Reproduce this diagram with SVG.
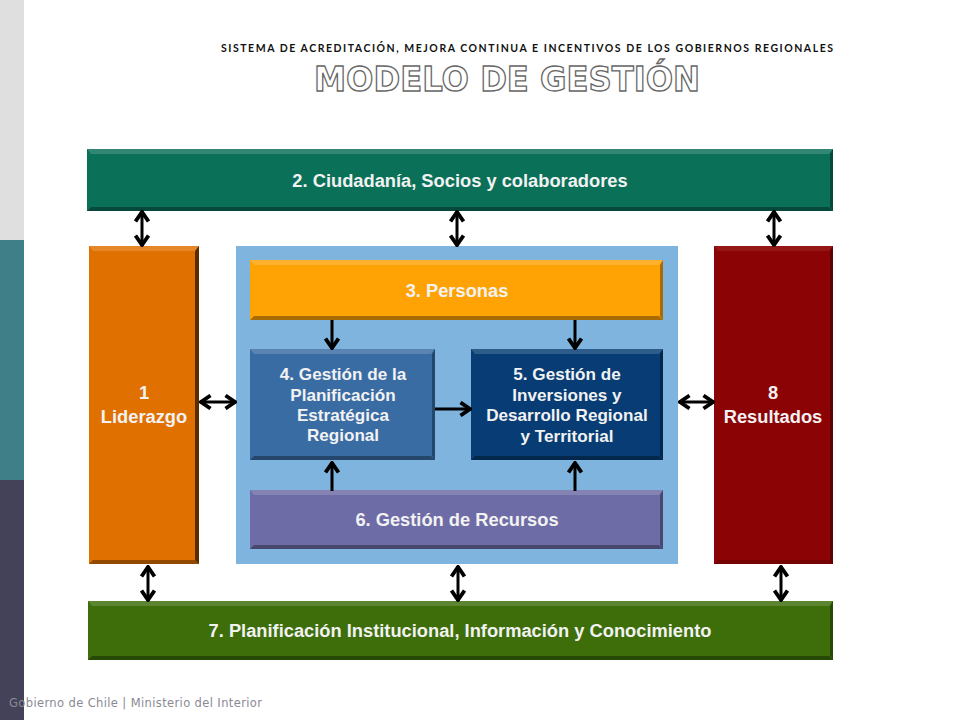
<svg xmlns="http://www.w3.org/2000/svg" width="960" height="720" viewBox="0 0 960 720">
<style>
.l{fill:#fff;fill-opacity:.16}
.d{fill:#000;fill-opacity:.34}
.t{font-family:"Liberation Sans",Arial,sans-serif;font-weight:700;font-size:18.300px;fill:#f2f2f2;text-anchor:middle}
.m{font-size:17.100px}
.c{fill:none;stroke:#000;stroke-width:3;marker-end:url(#h)}
.b{marker-start:url(#h)}
</style>
<defs>
<marker id="h" viewBox="0 0 14 16" refX="13" refY="8" markerWidth="14" markerHeight="16" markerUnits="userSpaceOnUse" orient="auto-start-reverse">
<path d="M2.500 1.500L12 8L2.500 14.500" fill="none" stroke="#000" stroke-width="3.800"/>
</marker>
</defs>
<rect width="960" height="720" fill="#fff"/>
<g id="sidebar">
<rect width="24" height="240" fill="#dfdfdf"/>
<rect y="240" width="24" height="240" fill="#3f7f88"/>
<rect y="480" width="24" height="240" fill="#434258"/>
</g>
<g id="title">
<text x="527" y="52" font-family="Lato,sans-serif" font-weight="700" font-size="10.500" textLength="612" lengthAdjust="spacing" text-anchor="middle" fill="#111">SISTEMA DE ACREDITACIÓN, MEJORA CONTINUA E INCENTIVOS DE LOS GOBIERNOS REGIONALES</text>
<text x="507" y="91" font-family="'DejaVu Sans',sans-serif" font-weight="700" font-size="33" textLength="386" lengthAdjust="spacingAndGlyphs" text-anchor="middle" fill="#fff" stroke="#666" stroke-width="1.300">MODELO DE GESTIÓN</text>
</g>
<rect id="panel" x="236" y="246" width="442" height="318" fill="#7fb4de"/>
<g id="n2">
<rect x="87" y="149" width="746" height="62" fill="#0a7058"/>
<path class="l" d="M87 149H833L829 154H91Z"/><path class="d" d="M87 211H833L829 207H91Z"/><path class="d" d="M833 149V211L830 207V154Z"/>
<text class="t" x="460" y="187">2. Ciudadanía, Socios y colaboradores</text>
</g>
<g id="n1">
<rect x="89" y="246" width="110" height="318" fill="#e07000"/>
<path class="l" d="M89 246H199L195 251H93Z"/><path class="d" d="M89 564H199L195 560H93Z"/><path class="d" d="M199 246V564L195 560V251Z" style="fill-opacity:.6"/>
<text class="t" x="144" y="399">1</text><text class="t" x="144" y="423">Liderazgo</text>
</g>
<g id="n3">
<rect x="250" y="260" width="413" height="60" fill="#ffa305"/>
<path class="l" d="M250 260H663L659 265H254Z"/><path class="d" d="M250 320H663L659 316H254Z"/><path class="d" d="M663 260V320L660 316V265Z"/>
<text class="t" x="457" y="297">3. Personas</text>
</g>
<g id="n4">
<rect x="250" y="349" width="185" height="111" fill="#3a6ca4"/>
<path class="l" d="M250 349H435L431 354H254Z"/><path class="d" d="M250 460H435L431 456H254Z"/><path class="d" d="M435 349V460L432 456V354Z"/>
<text class="t m" x="343" y="380">4. Gestión de la</text>
<text class="t m" x="343" y="401">Planificación</text>
<text class="t m" x="343" y="421">Estratégica</text>
<text class="t m" x="343" y="441">Regional</text>
</g>
<g id="n5">
<rect x="471" y="349" width="192" height="111" fill="#073d74"/>
<path class="l" d="M471 349H663L659 354H475Z"/><path class="d" d="M471 460H663L659 456H475Z"/><path class="d" d="M663 349V460L660 456V354Z"/>
<text class="t m" x="567" y="380">5. Gestión de</text>
<text class="t m" x="567" y="401">Inversiones y</text>
<text class="t m" x="567" y="421">Desarrollo Regional</text>
<text class="t m" x="567" y="442">y Territorial</text>
</g>
<g id="n6">
<rect x="250" y="490" width="413" height="59" fill="#6e6ca6"/>
<path class="l" d="M250 490H663L659 495H254Z"/><path class="d" d="M250 549H663L659 545H254Z"/><path class="d" d="M663 490V549L660 545V495Z"/>
<text class="t" x="457" y="526">6. Gestión de Recursos</text>
</g>
<g id="n8">
<rect x="714" y="246" width="119" height="318" fill="#8b0304"/>
<path class="l" d="M714 246H833L829 251H718Z" style="fill-opacity:.08"/><path class="d" d="M714 564H833L829 560H718Z" style="fill-opacity:.15"/><path class="d" d="M833 246V564L830 560V251Z"/>
<text class="t" x="773" y="399">8</text><text class="t" x="773" y="423">Resultados</text>
</g>
<g id="n7">
<rect x="88" y="601" width="745" height="59" fill="#3d6e0a"/>
<path class="l" d="M88 601H833L829 606H92Z"/><path class="d" d="M88 660H833L829 656H92Z"/><path class="d" d="M833 601V660L830 656V606Z"/>
<text class="t" x="460" y="637">7. Planificación Institucional, Información y Conocimiento</text>
</g>
<g id="connectors">
<path class="c b" d="M142 211V246"/>
<path class="c b" d="M457 211V246"/>
<path class="c b" d="M774 211V246"/>
<path class="c b" d="M200 402H236"/>
<path class="c b" d="M679 402H714"/>
<path class="c" d="M332 320V349"/>
<path class="c" d="M575 320V349"/>
<path class="c" d="M435 409H471"/>
<path class="c" d="M332 491V462"/>
<path class="c" d="M575 491V462"/>
<path class="c b" d="M148 566V601"/>
<path class="c b" d="M458 566V601"/>
<path class="c b" d="M781 566V601"/>
</g>
<text id="footer" x="9" y="707" font-family="'DejaVu Sans',Verdana,sans-serif" font-size="11.500" textLength="253" lengthAdjust="spacing" fill="#8a8a93">Gobierno de Chile | Ministerio del Interior</text>
</svg>
